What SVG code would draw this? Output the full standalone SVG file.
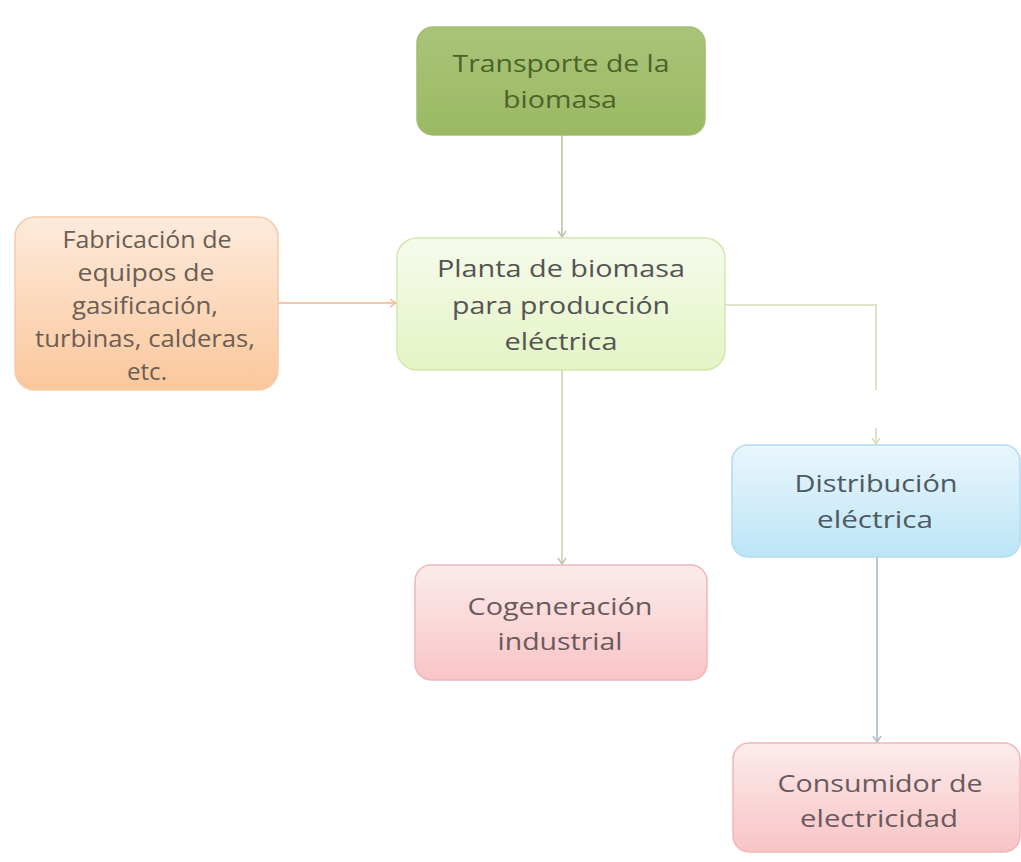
<svg xmlns="http://www.w3.org/2000/svg" width="1021" height="862" viewBox="0 0 1021 862">
<style>
  .t { font-family: "Open Sans", "Liberation Sans", sans-serif; font-size: 24px; text-anchor: middle; }
  .box { stroke-width: 1.5; }
  .c { fill: none; stroke-width: 1.6; }
</style>
<defs>
  <linearGradient id="gGreen" x1="0" y1="0" x2="0" y2="1">
    <stop offset="0" stop-color="#a9c47a"/>
    <stop offset="1" stop-color="#9aba62"/>
  </linearGradient>
  <linearGradient id="gLight" x1="0" y1="0" x2="0" y2="1">
    <stop offset="0" stop-color="#f6fbec"/>
    <stop offset="1" stop-color="#e4f4c4"/>
  </linearGradient>
  <linearGradient id="gPeach" x1="0" y1="0" x2="0" y2="1">
    <stop offset="0" stop-color="#fdebdc"/>
    <stop offset="1" stop-color="#fbc79c"/>
  </linearGradient>
  <linearGradient id="gBlue" x1="0" y1="0" x2="0" y2="1">
    <stop offset="0" stop-color="#e9f6fc"/>
    <stop offset="1" stop-color="#bde5f7"/>
  </linearGradient>
  <linearGradient id="gPink" x1="0" y1="0" x2="0" y2="1">
    <stop offset="0" stop-color="#fcecec"/>
    <stop offset="1" stop-color="#f8c4c6"/>
  </linearGradient>
  <marker id="arrG" markerWidth="10" markerHeight="10" refX="8" refY="5" orient="auto" markerUnits="userSpaceOnUse">
    <path d="M2,1 L8,5 L2,9" fill="none" stroke="#b9c3a6" stroke-width="1.4"/>
  </marker>
  <marker id="arrO" markerWidth="10" markerHeight="10" refX="8" refY="5" orient="auto" markerUnits="userSpaceOnUse">
    <path d="M2,1 L8,5 L2,9" fill="none" stroke="#f2b48a" stroke-width="1.4"/>
  </marker>
  <marker id="arrY" markerWidth="10" markerHeight="10" refX="8" refY="5" orient="auto" markerUnits="userSpaceOnUse">
    <path d="M2,1 L8,5 L2,9" fill="none" stroke="#d5dcb6" stroke-width="1.4"/>
  </marker>
  <marker id="arrB" markerWidth="10" markerHeight="10" refX="8" refY="5" orient="auto" markerUnits="userSpaceOnUse">
    <path d="M2,1 L8,5 L2,9" fill="none" stroke="#a9b6cc" stroke-width="1.4"/>
  </marker>
</defs>
<rect width="1021" height="862" fill="#ffffff"/>

<g id="connectors">
  <path class="c" d="M562,135 V237" stroke="#b9c3a6" marker-end="url(#arrG)"/>
  <path class="c" d="M278,303 H396" stroke="#f2b48a" marker-end="url(#arrO)"/>
  <path class="c" d="M562,370 V564" stroke="#c9d2b4" marker-end="url(#arrG)"/>
  <path class="c" d="M725,305 H876 V390" stroke="#d5dcb6"/>
  <path class="c" d="M876,428 V444" stroke="#d5dcb6" marker-end="url(#arrY)"/>
  <path class="c" d="M877,557 V742" stroke="#a9b6cc" marker-end="url(#arrB)"/>
</g>

<g id="transporte">
  <rect class="box" x="417" y="27" width="288" height="108" rx="16" fill="url(#gGreen)" stroke="#a3bd72"/>
  <text class="t" fill="#4f6228" x="561" y="72" textLength="217" lengthAdjust="spacingAndGlyphs">Transporte de la</text>
  <text class="t" fill="#4f6228" x="560" y="108" textLength="114" lengthAdjust="spacingAndGlyphs">biomasa</text>
</g>

<g id="planta">
  <rect class="box" x="397" y="238" width="328" height="132" rx="20" fill="url(#gLight)" stroke="#d3e8b0"/>
  <text class="t" fill="#545454" x="561" y="277" textLength="248" lengthAdjust="spacingAndGlyphs">Planta de biomasa</text>
  <text class="t" fill="#545454" x="561" y="314" textLength="218" lengthAdjust="spacingAndGlyphs">para producción</text>
  <text class="t" fill="#545454" x="561" y="350" textLength="113" lengthAdjust="spacingAndGlyphs">eléctrica</text>
</g>

<g id="fabricacion">
  <rect class="box" x="15" y="217" width="263" height="173" rx="20" fill="url(#gPeach)" stroke="#f4cbaa"/>
  <text class="t" fill="#6b5e55" x="147" y="248" font-size="22" textLength="169" lengthAdjust="spacingAndGlyphs">Fabricación de</text>
  <text class="t" fill="#6b5e55" x="146" y="281" font-size="22" textLength="137" lengthAdjust="spacingAndGlyphs">equipos  de</text>
  <text class="t" fill="#6b5e55" x="145" y="314" font-size="22" textLength="146" lengthAdjust="spacingAndGlyphs">gasificación,</text>
  <text class="t" fill="#6b5e55" x="145" y="347" font-size="22" textLength="220" lengthAdjust="spacingAndGlyphs">turbinas, calderas,</text>
  <text class="t" fill="#6b5e55" x="147" y="380" font-size="22" textLength="40" lengthAdjust="spacingAndGlyphs">etc.</text>
</g>

<g id="distribucion">
  <rect class="box" x="732" y="445" width="288" height="112" rx="16" fill="url(#gBlue)" stroke="#b0dcef"/>
  <text class="t" fill="#4e5a63" x="876" y="492" textLength="163" lengthAdjust="spacingAndGlyphs">Distribución</text>
  <text class="t" fill="#4e5a63" x="875" y="528" textLength="116" lengthAdjust="spacingAndGlyphs">eléctrica</text>
</g>

<g id="cogeneracion">
  <rect class="box" x="415" y="565" width="292" height="115" rx="16" fill="url(#gPink)" stroke="#efb7b9"/>
  <text class="t" fill="#6b5a5c" x="560" y="615" textLength="185" lengthAdjust="spacingAndGlyphs">Cogeneración</text>
  <text class="t" fill="#6b5a5c" x="560" y="650" textLength="125" lengthAdjust="spacingAndGlyphs">industrial</text>
</g>

<g id="consumidor">
  <rect class="box" x="733" y="743" width="287" height="109" rx="16" fill="url(#gPink)" stroke="#efb7b9"/>
  <text class="t" fill="#6b5a5c" x="880" y="792" textLength="205" lengthAdjust="spacingAndGlyphs">Consumidor de</text>
  <text class="t" fill="#6b5a5c" x="879" y="827" textLength="158" lengthAdjust="spacingAndGlyphs">electricidad</text>
</g>
</svg>
